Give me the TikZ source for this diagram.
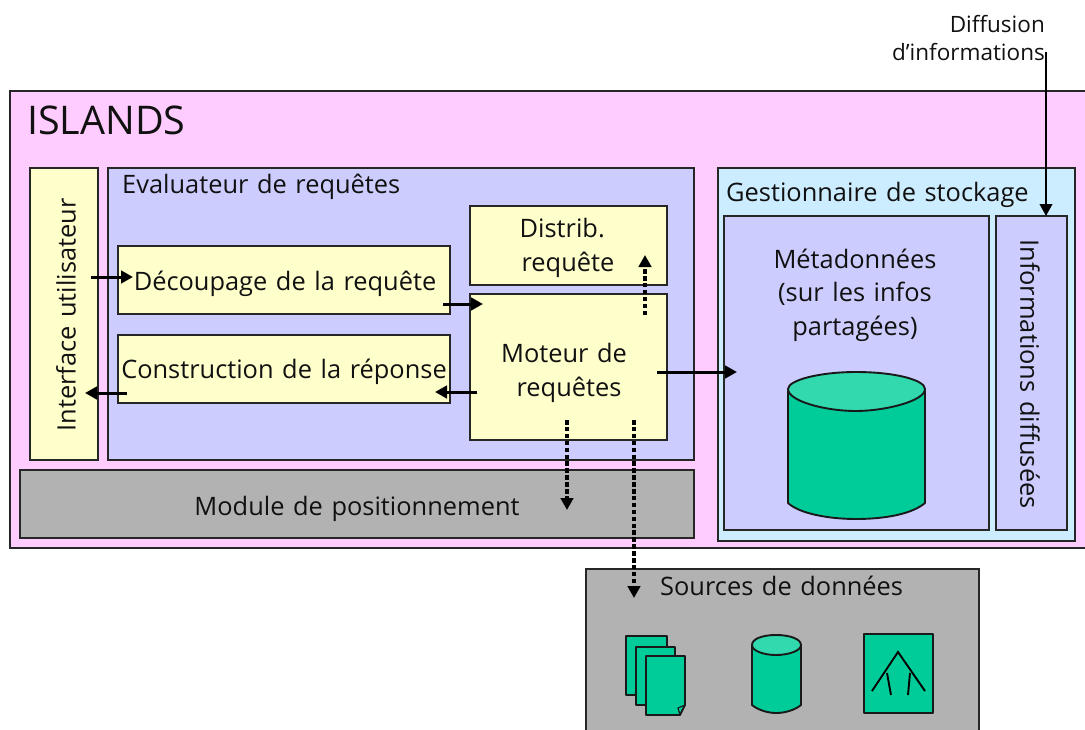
\documentclass[tikz,border=0pt]{standalone}
\usepackage{fontspec}
\setmainfont{Open Sans}[WordSpace=1.3]
\usetikzlibrary{arrows.meta}
\definecolor{cpink}{HTML}{FFCCFF}
\definecolor{clav}{HTML}{CCCCFF}
\definecolor{cyel}{HTML}{FFFFCC}
\definecolor{cteal}{HTML}{00CC99}
\definecolor{ctop}{HTML}{33D9AE}
\definecolor{cgray}{HTML}{B2B2B2}
\definecolor{cblue}{HTML}{CCECFF}
\definecolor{ctxt}{HTML}{111111}
\newcommand{\bx}[7]{\node[panel,fill=#6,anchor=north west,minimum width=#4pt,minimum height=#5pt] (#1) at (#2,#3) {#7};}
\tikzset{
  x=1pt,y=-1pt,
  panel/.style={draw=black!85,line width=1.9pt,inner sep=0pt,outer sep=0pt},
  part/.style={draw=black!90,line width=1.9pt,fill=cteal,line join=round},
  lab/.style={inner sep=0pt,text=ctxt,font=\fontsize{25.4}{33.5}\selectfont,align=center},
  flow/.style={line width=3pt,-{Triangle[length=12pt,width=12.5pt]}},
  thinflow/.style={line width=2.2pt,-{Triangle[length=12pt,width=12.5pt]}},
  dflow/.style={line width=3.6pt,dash pattern=on 4.5pt off 2.4pt,-{Triangle[length=12pt,width=12.5pt]}}
}
\begin{document}
\begin{tikzpicture}
\clip (0,0) rectangle (1085,729);
\fill[white] (0,0) rectangle (1085,729);
\bx{islands}{10}{91}{1090}{457}{cpink}{}
\bx{iface}{30}{168}{68}{292}{cyel}{}
\bx{eval}{108}{168}{586}{292}{clav}{}
\bx{decoup}{118}{246}{332}{68}{cyel}{}
\bx{constr}{118}{335}{332}{68}{cyel}{}
\bx{distrib}{470}{206}{197}{79}{cyel}{}
\bx{moteur}{470}{294}{197}{146}{cyel}{}
\bx{module}{20}{470}{674}{68}{cgray}{}
\bx{gest}{718}{168}{357}{373}{cblue}{}
\bx{meta}{724}{216}{265}{314}{clav}{}
\bx{info}{996}{216}{71}{314}{clav}{}
\bx{sources}{586}{569}{393}{180}{cgray}{}
% main cylinder
\draw[part] (788,391) -- (788,503) .. controls (800,514) and (830,519) .. (856,519) .. controls (885,519) and (912,514) .. (925,503) -- (925,391) -- cycle;
\draw[part,fill=ctop] (856,372) .. controls (895,372) and (925,380) .. (925,389) .. controls (925,401) and (885,411) .. (856,411) .. controls (825,411) and (788,401) .. (788,389) .. controls (788,380) and (820,372) .. (856,372) -- cycle;
% pages
\draw[part] (626,636) rectangle (667,695);
\draw[part] (636,647) rectangle (675,705);
\draw[part] (646,656) -- (685,656) -- (685,705) -- (680,715) -- (646,715) -- cycle;
\draw[black!90,line width=1.2pt] (680,715) -- (678,708) -- (685,705);
% small cylinder
\draw[part] (752,645) -- (752,705) .. controls (758,710) and (768,713) .. (776,713) .. controls (785,713) and (795,710) .. (801,705) -- (801,645) -- cycle;
\draw[part,fill=ctop] (776,635) .. controls (790,635) and (801,639) .. (801,645) .. controls (801,651) and (788,655) .. (776,655) .. controls (764,655) and (752,651) .. (752,645) .. controls (752,639) and (762,635) .. (776,635) -- cycle;
% tree
\draw[part] (864,634) rectangle (933,713);
\draw[black,line width=1.9pt] (872,691) -- (898,652) -- (925,691) (887,673) -- (891,695) (910,673) -- (908,695);
% labels
\node[lab,anchor=west,font=\fontsize{39.5}{40}\selectfont] (tislands) at (27,120) {ISLANDS};
\node[lab,rotate=90] (tiface) at (66,315) {Interface utilisateur};
\node[lab,anchor=west] (teval) at (122,187) {Evaluateur de requêtes};
\node[lab] (tdecoup) at (285,284) {Découpage de la requête};
\node[lab] (tconstr) at (284,372) {Construction de la réponse};
\node[lab,align=left] (tdistrib) at (567,248) {Distrib.\\\hspace*{2pt}requête};
\node[lab] (tmoteur) at (564,373) {Moteur de\\\hspace*{10pt}requêtes};
\node[lab] (tmodule) at (357,509) {Module de positionnement};
\node[lab,anchor=west] (tgest) at (726,195) {Gestionnaire de stockage};
\node[lab] (tmeta) at (855,295) {Métadonnées\\(sur les infos\\partagées)};
\node[lab,rotate=-90] (tinfo) at (1030,374) {Informations diffusées};
\node[lab,anchor=west] (tsources) at (660,586) {Sources de données};
\node[lab,align=right,anchor=east,font=\fontsize{22.5}{28}\selectfont] (tdiff) at (1045,38) {Diffusion\\d’informations};
% connector ends
\coordinate (a1) at (91,277); \coordinate (a2) at (133,277);
\coordinate (b1) at (127,393); \coordinate (b2) at (85,393);
\coordinate (c1) at (443,304); \coordinate (c2) at (483,304);
\coordinate (d1) at (477,392); \coordinate (d2) at (435,392);
\coordinate (e1) at (657,372); \coordinate (e2) at (737,372);
\coordinate (f1) at (645,315); \coordinate (f2) at (645,255);
\coordinate (g1) at (567,420); \coordinate (g2) at (567,510);
\coordinate (h1) at (634,420); \coordinate (h2) at (634,598);
\coordinate (i1) at (1046,52); \coordinate (i2) at (1046,216);
\draw[flow] (a1) -- (a2);
\draw[flow] (b1) -- (b2);
\draw[flow] (c1) -- (c2);
\draw[flow] (d1) -- (d2);
\draw[flow] (e1) -- (e2);
\draw[dflow] (f1) -- (f2);
\draw[dflow] (g1) -- (g2);
\draw[dflow] (h1) -- (h2);
\draw[thinflow] (i1) -- (i2);
\end{tikzpicture}
\end{document}
